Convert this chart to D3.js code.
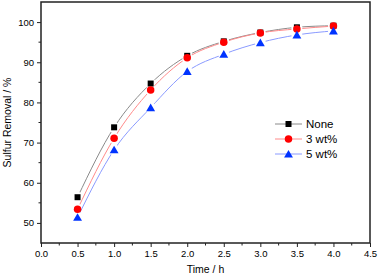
<!DOCTYPE html>
<html>
<head>
<meta charset="utf-8">
<script src="https://cdn.jsdelivr.net/npm/d3@7"></script>
<style>
  body { margin: 0; background: white; }
  text { font-family: Arial, "Liberation Sans", sans-serif; fill: #000; }
</style>
</head>
<body>
<script>
// time points (h)
var times = [0.5, 1.0, 1.5, 2.0, 2.5, 3.0, 3.5, 4.0];
// sulfur removal (%) for each catalyst loading
var noneVals = [56.4, 73.8, 84.7, 91.6, 95.2, 97.4, 98.7, 99.1];
var wt3Vals  = [53.4, 71.1, 83.1, 91.1, 95.0, 97.3, 98.3, 99.0];
var wt5Vals  = [51.4, 68.2, 78.7, 87.7, 92.0, 94.9, 96.8, 97.8];
var seriesNames = ["None", "3 wt%", "5 wt%"];
var xTicks = [0.0, 0.5, 1.0, 1.5, 2.0, 2.5, 3.0, 3.5, 4.0, 4.5];
var yTicks = [50, 60, 70, 80, 90, 100];

var width = 378, height = 280;
var margin = {top: 2, right: 8, bottom: 37, left: 41};

var svg = d3.select("body").append("svg")
  .attr("width", width)
  .attr("height", height);

var x = d3.scaleLinear().domain([0, 4.5]).range([margin.left, width - margin.right]);
var y = d3.scaleLinear().domain([45, 105]).range([height - margin.bottom, margin.top]);

// series styling (marker colour, line colour, symbol)
var series = [
  {name: seriesNames[0], vals: noneVals, mark: "#000000", line: "#8a8a8a", sym: d3.symbolSquare, size: 36},
  {name: seriesNames[1], vals: wt3Vals,  mark: "#ff0000", line: "#ff8a8a", sym: d3.symbolCircle, size: 44},
  {name: seriesNames[2], vals: wt5Vals,  mark: "#0033ff", line: "#8a9aff", sym: d3.symbolTriangle, size: 34}
];

var defs = svg.append("defs");

// masks so the line stops just short of each symbol
series.forEach(function(s, i) {
  var m = defs.append("mask").attr("id", "gap" + i).attr("maskUnits", "userSpaceOnUse")
    .attr("x", 0).attr("y", 0).attr("width", width).attr("height", height);
  m.append("rect").attr("width", width).attr("height", height).attr("fill", "white");
  m.selectAll("circle").data(times).enter().append("circle")
    .attr("cx", function(d) { return x(d); })
    .attr("cy", function(d, j) { return y(s.vals[j]); })
    .attr("r", 5.5)
    .attr("fill", "black");
});

var line = d3.line()
  .x(function(d) { return x(d[0]); })
  .y(function(d) { return y(d[1]); })
  .curve(d3.curveMonotoneX);

series.forEach(function(s, i) {
  var pts = times.map(function(t, j) { return [t, s.vals[j]]; });
  svg.append("path")
    .attr("d", line(pts))
    .attr("fill", "none")
    .attr("stroke", s.line)
    .attr("stroke-width", 1)
    .attr("mask", "url(#gap" + i + ")");
});

series.forEach(function(s) {
  svg.append("g").selectAll("path")
    .data(times)
    .enter().append("path")
    .attr("d", d3.symbol().type(s.sym).size(s.size))
    .attr("transform", function(d, j) {
      var dy = s.sym === d3.symbolTriangle ? 1 : 0;
      return "translate(" + x(d) + "," + (y(s.vals[j]) + dy) + ")";
    })
    .attr("fill", s.mark);
});

// axes
var xAxis = d3.axisBottom(x).tickValues(xTicks).tickFormat(d3.format(".1f")).tickSize(4).tickPadding(3);
var yAxis = d3.axisLeft(y).tickValues(yTicks).tickSize(4).tickPadding(3);

var gx = svg.append("g").attr("transform", "translate(0," + y.range()[0] + ")").call(xAxis);
var gy = svg.append("g").attr("transform", "translate(" + x.range()[0] + ",0)").call(yAxis);

// minor ticks
var xMinor = d3.range(0.25, 4.5, 0.5);
var yMinor = d3.range(55, 105, 10);
gx.selectAll(".minor").data(xMinor).enter().append("line")
  .attr("x1", function(d) { return x(d); }).attr("x2", function(d) { return x(d); })
  .attr("y1", 0).attr("y2", 2.5).attr("stroke", "#222");
gy.selectAll(".minor").data(yMinor).enter().append("line")
  .attr("y1", function(d) { return y(d); }).attr("y2", function(d) { return y(d); })
  .attr("x1", 0).attr("x2", -2.5).attr("stroke", "#222");

[gx, gy].forEach(function(g) {
  g.select(".domain").remove();
  g.selectAll(".tick line").attr("stroke", "#222");
  g.selectAll("text").style("font-size", "9.5px").style("font-family", "Arial, 'Liberation Sans', sans-serif");
});

// frame
svg.append("rect")
  .attr("x", x.range()[0]).attr("y", y.range()[1])
  .attr("width", x.range()[1] - x.range()[0])
  .attr("height", y.range()[0] - y.range()[1])
  .attr("fill", "none").attr("stroke", "#222").attr("stroke-width", 1.5);

// axis titles
svg.append("text")
  .attr("x", (x.range()[0] + x.range()[1]) / 2)
  .attr("y", 273)
  .attr("text-anchor", "middle")
  .style("font-size", "10.5px")
  .text("Time / h");

svg.append("text")
  .attr("transform", "translate(10.5," + ((y.range()[0] + y.range()[1]) / 2) + ") rotate(-90)")
  .attr("text-anchor", "middle")
  .style("font-size", "10.5px")
  .text("Sulfur Removal / %");

// legend
var legend = svg.append("g").attr("transform", "translate(275,124)");
var rows = legend.selectAll("g").data(series).enter().append("g")
  .attr("transform", function(d, i) { return "translate(0," + (i * 15) + ")"; });
rows.append("line").attr("x1", 0).attr("x2", 27).attr("y1", 0).attr("y2", 0)
  .attr("stroke", function(d) { return d.line; });
rows.append("path")
  .attr("d", function(d) { return d3.symbol().type(d.sym).size(d.size)(); })
  .attr("transform", function(d) { return "translate(13.5," + (d.sym === d3.symbolTriangle ? 1 : 0) + ")"; })
  .attr("fill", function(d) { return d.mark; });
rows.append("text").attr("x", 31).attr("y", 4.2)
  .style("font-size", "11.5px")
  .text(function(d) { return d.name; });
</script>
</body>
</html>
